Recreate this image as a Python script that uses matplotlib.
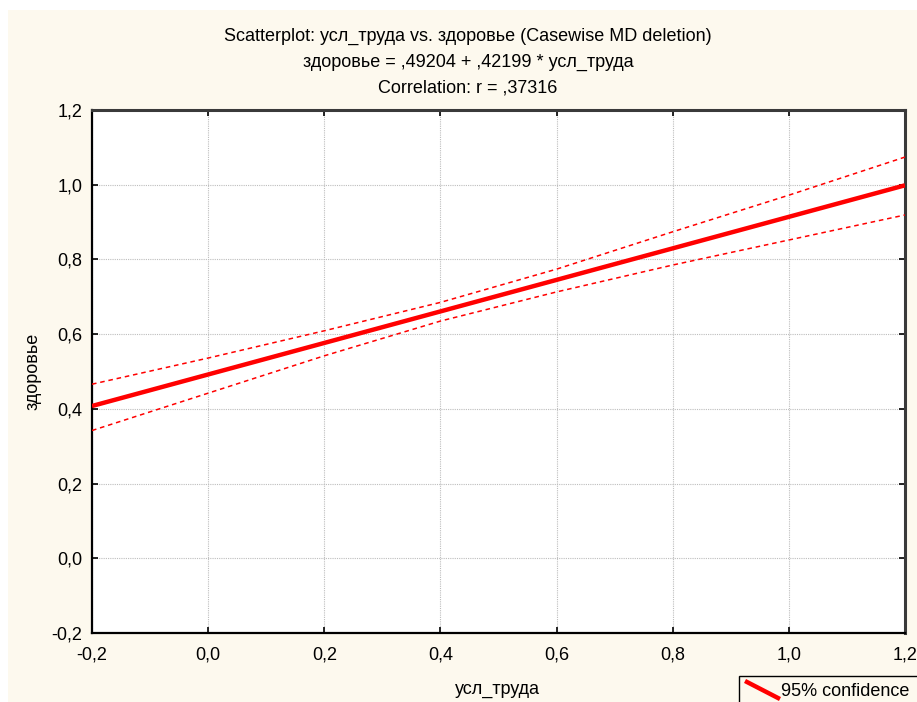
import matplotlib
matplotlib.use("Agg")
import matplotlib.pyplot as plt
import numpy as np
from matplotlib.patches import Rectangle
from matplotlib.lines import Line2D

plt.rcParams['font.family'] = ['Liberation Sans', 'DejaVu Sans']

# Data
x_points = [-0.2, 0.0, 0.2, 0.4, 0.6, 0.8, 1.0, 1.2]
intercept = 0.49204
slope = 0.42199
upper_ci = [0.466, 0.536, 0.609, 0.685, 0.774, 0.874, 0.972, 1.074]
lower_ci = [0.342, 0.442, 0.542, 0.635, 0.713, 0.785, 0.852, 0.919]
x_ticks = [-0.2, 0.0, 0.2, 0.4, 0.6, 0.8, 1.0, 1.2]
y_ticks = [-0.2, 0.0, 0.2, 0.4, 0.6, 0.8, 1.0, 1.2]
tick_labels = ['-0,2', '0,0', '0,2', '0,4', '0,6', '0,8', '1,0', '1,2']
title_lines = ["Scatterplot: усл_труда vs. здоровье (Casewise MD deletion)",
               "здоровье = ,49204 + ,42199 * усл_труда",
               "Correlation: r = ,37316"]
x_label = "усл_труда"
y_label = "здоровье"
legend_label = "95% confidence"

FS = 13
W, H = 917, 702
fig = plt.figure(figsize=(W/100, H/100), dpi=100)
fig.patch.set_facecolor('white')
cream = '#fdf9ee'
fig.patches.append(Rectangle((8/W, 0), 1, 1 - 10/H, transform=fig.transFigure,
                             facecolor=cream, edgecolor='none', zorder=-10))

L, R, T, B = 92, 905, 110, 633
ax = fig.add_axes([L/W, 1 - B/H, (R-L)/W, (B-T)/H])
ax.set_facecolor('white')
ax.set_xlim(-0.2, 1.2)
ax.set_ylim(-0.2, 1.2)

xs = np.array(x_points)
ax.plot(xs, intercept + slope*xs, color='#ff0000', lw=3.2, solid_capstyle='butt', zorder=3)
ax.plot(xs, upper_ci, color='#ff0000', lw=1.1, dashes=(3, 2.5), zorder=3)
ax.plot(xs, lower_ci, color='#ff0000', lw=1.1, dashes=(3, 2.5), zorder=3)

ax.set_xticks(x_ticks)
ax.set_yticks(y_ticks)
ax.set_xticklabels(tick_labels, fontsize=FS)
ax.set_yticklabels(tick_labels, fontsize=FS)
ax.tick_params(direction='in', length=4, width=1.2, top=True, right=True, color='black')
ax.tick_params(axis='x', pad=10)
ax.tick_params(axis='y', pad=7)
ax.grid(True, color='#bdbdbd', lw=0.8, ls=(0, (1, 1)))
ax.set_axisbelow(True)

for s in ['left', 'bottom']:
    ax.spines[s].set_color('black')
    ax.spines[s].set_linewidth(1.6)
for s in ['top', 'right']:
    ax.spines[s].set_color('#3a3a3a')
    ax.spines[s].set_linewidth(2.2)

for i, t in enumerate(title_lines):
    fig.text(468/W, 1 - (36 + 26*i)/H, t, ha='center', va='center', fontsize=FS)

fig.text(497/W, 1 - 690/H, x_label, ha='center', va='center', fontsize=FS)
fig.text(33/W, 1 - 371/H, y_label, ha='center', va='center', fontsize=FS, rotation=90)

# Legend box (partially off canvas)
fig.patches.append(Rectangle((739/W, 1 - 720/H), 200/W, 44/H, transform=fig.transFigure,
                             facecolor=cream, edgecolor='black', lw=1.0, zorder=5))
fig.lines.append(Line2D([747/W, 778/W], [1 - 682/H, 1 - 698/H], transform=fig.transFigure,
                        color='#ff0000', lw=3.2, zorder=6))
fig.text(781/W, 1 - 691/H, legend_label, ha='left', va='center', fontsize=FS, zorder=6)

fig.savefig('out.png', dpi=100, facecolor=fig.get_facecolor())
